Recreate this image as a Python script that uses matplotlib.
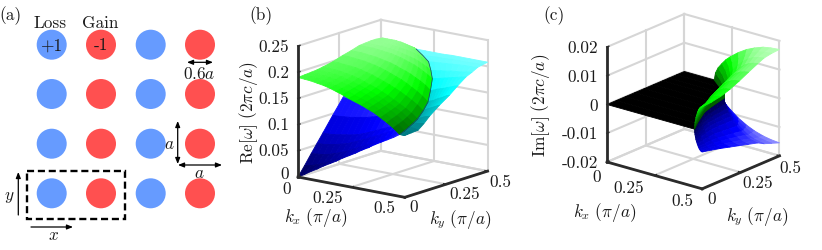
import numpy as np
import matplotlib
matplotlib.use('Agg')
import matplotlib.pyplot as plt
from matplotlib.colors import LinearSegmentedColormap, Normalize
from matplotlib.patches import Circle, Rectangle
from mpl_toolkits.mplot3d import proj3d

plt.rcParams['font.family'] = ['cmr10', 'DejaVu Sans']
plt.rcParams['mathtext.fontset'] = 'cm'
plt.rcParams['axes.unicode_minus'] = False
plt.rcParams['axes.formatter.use_mathtext'] = True

W, H = 822, 251
FS = 12.4

# panel a
lattice_x = [51.7, 101, 150.7, 200]
lattice_y = [45.7, 95, 144.7, 194.3]

# panel b, rows of ky, green / blue tables run from kx=0 to the contour
re_ky = [0, .04, .08, .115, .15, .21, .27, .32, .37, .405, .44, .47, .5]
re_edge = [.476, .467, .458, .45, .443, .423, .399, .372, .342, .308, .27, .22, .166]
re_frac = np.arange(17) / 16
re_green = [[.190, .189, .188, .186, .184, .181, .177, .173, .168, .164, .160, .155, .150, .143, .136, .128, .118],
            [.191, .190, .189, .187, .185, .182, .179, .175, .170, .166, .162, .157, .151, .145, .138, .130, .120],
            [.192, .191, .190, .189, .187, .184, .181, .177, .173, .169, .164, .159, .153, .147, .140, .132, .123],
            [.193, .193, .192, .191, .189, .186, .183, .179, .175, .171, .166, .161, .155, .149, .143, .135, .126],
            [.195, .195, .194, .193, .191, .189, .186, .182, .178, .174, .169, .164, .158, .152, .146, .139, .130],
            [.199, .199, .198, .197, .196, .194, .191, .188, .184, .180, .176, .171, .166, .160, .154, .147, .138],
            [.205, .205, .204, .203, .202, .200, .198, .195, .192, .188, .184, .180, .175, .169, .163, .156, .147],
            [.209, .209, .209, .208, .207, .206, .204, .202, .200, .197, .193, .190, .186, .181, .176, .170, .162],
            [.214, .214, .214, .214, .213, .212, .211, .210, .208, .206, .203, .200, .197, .193, .188, .183, .177],
            [.215, .215, .215, .215, .215, .214, .213, .212, .211, .209, .207, .205, .203, .200, .196, .192, .187],
            [.216, .216, .216, .216, .216, .216, .215, .214, .213, .212, .211, .210, .208, .206, .203, .200, .197],
            [.216, .216, .216, .216, .216, .216, .216, .215, .214, .214, .213, .212, .210, .209, .207, .205, .202],
            [.215, .216, .216, .216, .216, .216, .216, .216, .215, .215, .214, .213, .212, .211, .210, .209, .207]]
# only the part of the lower band that shows under the green one
re_blue = [[.000, .007, .015, .022, .030, .037, .044, .052, .059, .066, .074, .081, .089, .096, .103, .110, .118],
           [.018, .020, .024, .029, .035, .041, .048, .055, .062, .069, .076, .083, .091, .098, .105, .113, .120],
           [.037, .038, .039, .042, .046, .050, .055, .061, .067, .073, .079, .086, .092, .099, .106, .114, .123],
           [.053, .053, .055, .057, .060, .063, .068, .073, .078, .084, .089, .095, .101, .107, .113, .119, .126],
           [.069, .069, .070, .072, .074, .076, .079, .083, .088, .093, .098, .103, .108, .114, .120, .125, .130],
           [.097, .097, .098, .099, .101, .103, .105, .108, .111, .114, .117, .120, .124, .128, .131, .135, .138],
           [.124, .124, .125, .125, .126, .127, .129, .131, .133, .135, .137, .139, .141, .143, .145, .146, .147],
           [.147, .147, .148, .148, .149, .150, .151, .152, .153, .154, .155, .156, .157, .158, .159, .160, .162]]
# cyan runs from the contour to kx=0.5
cy_frac = np.arange(9) / 8
re_cyan = [[.118, .118, .118, .118, .118, .118, .118, .118, .118],
           [.120, .120, .120, .120, .120, .120, .120, .120, .119],
           [.123, .123, .123, .122, .122, .122, .121, .121, .120],
           [.126, .126, .127, .127, .127, .128, .128, .129, .129],
           [.130, .131, .133, .134, .136, .137, .138, .139, .140],
           [.138, .141, .143, .145, .147, .149, .151, .153, .155],
           [.147, .150, .152, .155, .158, .160, .163, .166, .168],
           [.162, .164, .167, .169, .171, .174, .176, .179, .181],
           [.177, .179, .181, .183, .185, .187, .189, .191, .193],
           [.187, .188, .190, .191, .193, .194, .195, .197, .198],
           [.197, .198, .199, .200, .201, .202, .203, .203, .204],
           [.202, .203, .204, .204, .205, .205, .205, .206, .206],
           [.207, .207, .207, .207, .208, .208, .208, .208, .208]]

# panel c
im_ky = [0, .06, .12, .18, .24, .30, .36, .40, .45, .5]
im_edge = [.46, .425, .395, .366, .349, .336, .323, .284, .225, .157]
im_frac = [0, .02, .06, .12, .18, .25, .37, .5, .62, .75, .87, 1]
im_green = [[0, .0013, .0023, .0032, .0041, .0048, .0060, .0069, .0076, .0081, .0083, .0085],
            [0, .0013, .0024, .0033, .0042, .0050, .0062, .0071, .0078, .0084, .0086, .0088],
            [0, .0014, .0025, .0036, .0045, .0054, .0066, .0076, .0084, .0089, .0092, .0094],
            [0, .0016, .0028, .0040, .0050, .0060, .0074, .0085, .0093, .0100, .0103, .0105],
            [0, .0018, .0032, .0046, .0058, .0068, .0084, .0097, .0107, .0114, .0118, .0120],
            [0, .0021, .0037, .0052, .0066, .0078, .0096, .0111, .0122, .0130, .0134, .0137],
            [0, .0023, .0041, .0058, .0073, .0087, .0107, .0124, .0136, .0145, .0150, .0153],
            [0, .0024, .0044, .0062, .0078, .0093, .0114, .0132, .0145, .0155, .0160, .0163],
            [0, .0025, .0045, .0064, .0081, .0096, .0118, .0136, .0150, .0160, .0165, .0168],
            [0, .0026, .0046, .0065, .0082, .0097, .0119, .0138, .0151, .0162, .0167, .0170]]
im_blue = [[0, -.0011, -.0019, -.0027, -.0035, -.0041, -.0050, -.0058, -.0064, -.0068, -.0071, -.0072],
           [0, -.0012, -.0021, -.0030, -.0038, -.0045, -.0055, -.0064, -.0070, -.0075, -.0077, -.0079],
           [0, -.0013, -.0023, -.0033, -.0042, -.0050, -.0061, -.0070, -.0077, -.0083, -.0085, -.0087],
           [0, -.0014, -.0026, -.0036, -.0046, -.0055, -.0067, -.0078, -.0085, -.0091, -.0094, -.0096],
           [0, -.0016, -.0028, -.0040, -.0050, -.0060, -.0074, -.0085, -.0093, -.0100, -.0103, -.0105],
           [0, -.0017, -.0031, -.0043, -.0055, -.0065, -.0080, -.0092, -.0101, -.0108, -.0112, -.0114],
           [0, -.0018, -.0033, -.0047, -.0059, -.0070, -.0086, -.0100, -.0109, -.0117, -.0121, -.0123],
           [0, -.0020, -.0036, -.0051, -.0065, -.0077, -.0095, -.0109, -.0120, -.0128, -.0132, -.0135],
           [0, -.0022, -.0039, -.0055, -.0070, -.0083, -.0102, -.0117, -.0129, -.0138, -.0142, -.0145],
           [0, -.0023, -.0042, -.0059, -.0074, -.0088, -.0109, -.0126, -.0138, -.0147, -.0152, -.0155]]

kx_ticks = [0, .25, .5]
ky_ticks = [0, .25, .5]
re_ticks = [0, .05, .1, .15, .2, .25]
im_ticks = [-.02, -.01, 0, .01, .02]
re_labels = ['0', '0.05', '0.1', '0.15', '0.2', '0.25']
im_labels = ['-0.02', '-0.01', '0', '0.01', '0.02']

green_b = LinearSegmentedColormap.from_list('gb', [(0, (0, .2, 0)), (.47, (0, 1, 0)), (1, (1, 1, 1))])
cyan_b = LinearSegmentedColormap.from_list('cb', [(0, (0, .3, .35)), (.47, (0, 1, 1)), (1, (1, 1, 1))])
blue_b = LinearSegmentedColormap.from_list('bb', [(0, (0, 0, .33)), (.4, (0, 0, 1)), (1, (1, 1, 1))])
blue_c = LinearSegmentedColormap.from_list('bi', [(0, (1, 1, 1)), (.55, (0, 0, 1)), (1, (0, 0, .3))])
green_c = LinearSegmentedColormap.from_list('gi', [(0, (0, .3, 0)), (.45, (0, 1, 0)), (1, (1, 1, 1))])
black = LinearSegmentedColormap.from_list('k', ['k', 'k'])
GREY = '#d6d6d6'
DARK = '#2b2b2b'


def surf(ax, ky, edge, frac, z, cmap, vmin, vmax, start=None, order=2):
    # each row of the table runs between two kx limits
    ky = np.array(ky)
    edge = np.array(edge)
    frac = np.array(frac)
    z = np.array(z, dtype=float)
    if start is None:
        X = np.outer(edge, frac)
    else:
        X = np.outer(edge, 1 - frac) + start * frac
    Y = np.outer(ky, np.ones(len(frac)))
    # colour of a cell from the mean of its corners
    mid = z.copy()
    mid[:-1, :-1] = (z[:-1, :-1] + z[1:, :-1] + z[:-1, 1:] + z[1:, 1:]) / 4
    fc = cmap(Normalize(vmin, vmax)(mid))
    ax.plot_surface(X, Y, z, facecolors=fc, rstride=1, cstride=1, linewidth=.6, shade=False, zorder=order)


def frame(ax, zticks, zlo, zhi):
    for v in zticks:
        ax.plot([0, 0], [0, .5], [v, v], color=GREY, lw=1.5, zorder=1)
        ax.plot([0, .5], [.5, .5], [v, v], color=GREY, lw=1.5, zorder=1)
        ax.plot([0, 0], [0, .012], [v, v], color=DARK, lw=1, zorder=5)
    for v in ky_ticks:
        ax.plot([0, 0], [v, v], [zlo, zhi], color=GREY, lw=1.5, zorder=1)
        ax.plot([0, .5], [v, v], [zlo, zlo], color=GREY, lw=1.5, zorder=1)
        ax.plot([.488, .5], [v, v], [zlo, zlo], color=DARK, lw=1, zorder=5)
    for v in kx_ticks:
        ax.plot([v, v], [.5, .5], [zlo, zhi], color=GREY, lw=1.5, zorder=1)
        ax.plot([v, v], [0, .5], [zlo, zlo], color=GREY, lw=1.5, zorder=1)
        ax.plot([v, v], [0, .012], [zlo, zlo], color=DARK, lw=1, zorder=5)
    ax.plot([0, 0], [0, 0], [zlo, zhi], color=DARK, lw=2, zorder=5)
    ax.plot([0, .5], [0, 0], [zlo, zlo], color=DARK, lw=2, zorder=5)
    ax.plot([.5, .5], [0, .5], [zlo, zlo], color=DARK, lw=2, zorder=5)


def place(ax, px, py, height, zlo, zhi):
    # put the floor corner and the height of the box on the wanted pixels
    l, b, s = .3, .3, .5
    for i in range(3):
        ax.set_position([l, b, s * H / W, s])
        ax.apply_aspect()
        pts = []
        for z in (zlo, zhi):
            u, v, _ = proj3d.proj_transform(0, 0, z, ax.get_proj())
            pts.append(ax.transData.transform((u, v)))
        s *= height / (pts[1][1] - pts[0][1])
        ax.set_position([l, b, s * H / W, s])
        ax.apply_aspect()
        u, v, _ = proj3d.proj_transform(0, 0, zlo, ax.get_proj())
        q = ax.transData.transform((u, v))
        l += (px - q[0]) / W
        b += (H - py - q[1]) / H
    ax.set_position([l, b, s * H / W, s])


fig = plt.figure(figsize=(W / 100, H / 100), dpi=100)

# panel b
axb = fig.add_axes([.3, .3, .5, .5], projection='3d', computed_zorder=False)
axb.set_proj_type('ortho')
axb.view_init(elev=14.2, azim=-52.2)
axb.set_box_aspect((1, 1, 1))
axb.set_xlim(0, .5)
axb.set_ylim(0, .5)
axb.set_zlim(0, .25)
axb.set_axis_off()
frame(axb, re_ticks, 0, .25)
surf(axb, re_ky[:8], re_edge[:8], re_frac, re_blue, blue_b, 0, .25, order=2)
surf(axb, re_ky, re_edge, cy_frac, re_cyan, cyan_b, .10, .25, start=.5, order=3)
surf(axb, re_ky, re_edge, re_frac, re_green, green_b, .10, .25, order=4)
axb.plot(re_edge, re_ky, np.array(re_green)[:, -1], color='#12408a', lw=.5, zorder=4.5)
place(axb, 298, 178, 131, 0, .25)

# panel c
axc = fig.add_axes([.3, .3, .5, .5], projection='3d', computed_zorder=False)
axc.set_proj_type('ortho')
axc.view_init(elev=20.3, azim=-50.9)
axc.set_box_aspect((1, 1, 1))
axc.set_xlim(0, .5)
axc.set_ylim(0, .5)
axc.set_zlim(-.02, .02)
axc.set_axis_off()
frame(axc, im_ticks, -.02, .02)
surf(axc, im_ky, im_edge, im_frac, im_blue, blue_c, -.02, 0, start=.5, order=2)
surf(axc, im_ky, im_edge, [0, 1], np.zeros((len(im_ky), 2)), black, 0, 1, order=3)
surf(axc, im_ky, im_edge, im_frac, im_green, green_c, 0, .02, start=.5, order=4)
place(axc, 607, 163, 115, -.02, .02)

# flat layer in pixels for panel a and every text
ax = fig.add_axes([0, 0, 1, 1], zorder=10)
ax.set_xlim(0, W)
ax.set_ylim(H, 0)
ax.axis('off')
ax.patch.set_alpha(0)

for j, y in enumerate(lattice_y):
    for i, x in enumerate(lattice_x):
        ax.add_patch(Circle((x, y), 15, color='#ff5050' if i % 2 else '#669bff', lw=0))
ax.add_patch(Rectangle((26.7, 171.7), 98.3, 48.3, fill=False, ec='k', lw=1.7, ls=(0, (3, 1.6))))


def arrow(x0, y0, x1, y1, style='-|>'):
    ax.annotate('', xy=(x1, y1), xytext=(x0, y0),
                arrowprops=dict(arrowstyle=style + ',head_length=.35,head_width=.14', color='k', lw=.9,
                                shrinkA=0, shrinkB=0))


arrow(187, 63.3, 213, 63.3, '<|-|>')
arrow(177.7, 122, 177.7, 165, '<|-|>')
arrow(178, 166, 222, 166, '<|-|>')
arrow(18.3, 216, 18.3, 173)
arrow(31, 228, 73, 228)


def lab(x, y, s, ha='center', rot=0):
    ax.text(x, y, s, ha=ha, va='center', fontsize=FS, rotation=rot, color='#1a1a1a')


lab(10.5, 15.7, '(a)')
lab(261, 15.7, '(b)')
lab(554, 16, '(c)')
lab(50, 23, 'Loss')
lab(100, 23, 'Gain')
lab(50.7, 45.7, '+1')
lab(100.7, 45.7, '-1')
lab(199, 74, '0.6$a$')
lab(169, 144, '$a$')
lab(199, 173, '$a$')
lab(9, 197, '$y$')
lab(53, 235, '$x$')

for s, y in zip(re_labels, [174, 151, 125, 99, 73, 47]):
    lab(289, y, s, ha='right')
for s, y in zip(im_labels, [163, 134, 106, 77, 48]):
    lab(598, y, s, ha='right')
for s, x, y in zip(['0', '0.25', '0.5'], [287, 328, 384], [189, 198, 208]):
    lab(x, y, s)
for s, x, y in zip(['0', '0.25', '0.5'], [414, 465, 500], [207, 194, 182]):
    lab(x, y, s)
for s, x, y in zip(['0', '0.25', '0.5'], [597, 629, 682], [177, 188, 201]):
    lab(x, y, s)
for s, x, y in zip(['0', '0.25', '0.5'], [712, 758, 790], [199, 183, 168]):
    lab(x, y, s)

lab(316, 218, r'$k_x\ (\pi/a)$')
lab(460, 220, r'$k_y\ (\pi/a)$')
lab(605, 213, r'$k_x\ (\pi/a)$')
lab(757, 217, r'$k_y\ (\pi/a)$')
lab(248, 113, r'$\mathrm{Re}[\omega]\ (2\pi c/a)$', rot=90)
lab(540, 105, r'$\mathrm{Im}[\omega]\ (2\pi c/a)$', rot=90)

fig.savefig('out.png', dpi=100)
